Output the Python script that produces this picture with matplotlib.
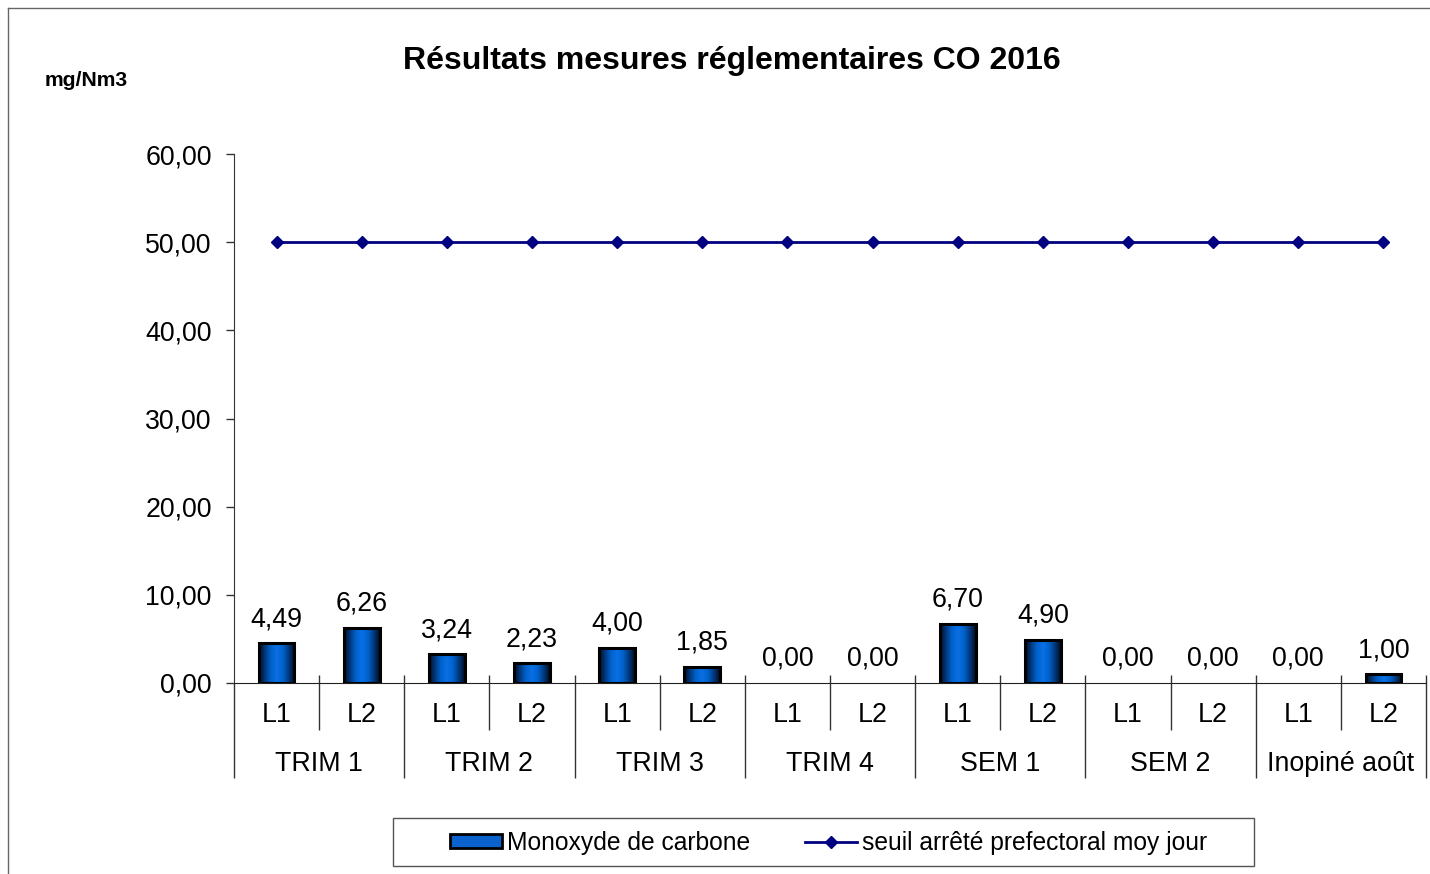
import matplotlib
matplotlib.use("Agg")

import numpy as np
import matplotlib.pyplot as plt
from matplotlib.colors import LinearSegmentedColormap
from matplotlib.lines import Line2D
from matplotlib.patches import Patch, Rectangle
from matplotlib.ticker import FuncFormatter

plt.rcParams["font.family"] = ["Liberation Sans", "DejaVu Sans"]

groups = ["TRIM 1", "TRIM 2", "TRIM 3", "TRIM 4", "SEM 1", "SEM 2", "Inopiné août"]
lines = ["L1", "L2"]
co = [4.49, 6.26, 3.24, 2.23, 4.00, 1.85, 0.00, 0.00, 6.70, 4.90, 0.00, 0.00, 0.00, 1.00]
seuil = [50] * 14

W, H = 1430, 874
FS = 19.3
LFS = 17.7


def main():
    fig = plt.figure(figsize=(W / 100, H / 100), dpi=100)
    ax = fig.add_axes([234 / W, 1 - 683 / H, 1192 / W, 529 / H])

    x = np.arange(len(co))
    bw = 0.42
    grad = LinearSegmentedColormap.from_list(
        "g", ["#000c20", "#003a80", "#0062cc", "#0a70e4", "#0062cc", "#003a80", "#000c20"])
    img = np.linspace(0, 1, 64).reshape(1, -1)
    pos = [(xi, v) for xi, v in zip(x, co) if v > 0]
    for xi, v in pos:
        ax.imshow(img, cmap=grad, aspect="auto", extent=(xi - bw / 2, xi + bw / 2, 0, v),
                  zorder=2, interpolation="bilinear")
    ax.bar([p[0] for p in pos], [p[1] for p in pos], bw, fill=False, edgecolor="black",
           linewidth=2.2, zorder=3)

    for xi, v in zip(x, co):
        ax.annotate(("%.2f" % v).replace(".", ","), (xi, v), xytext=(0, 8),
                    textcoords="offset points", ha="center", va="bottom", fontsize=FS)

    ax.plot(x, seuil, color="#000080", lw=2, marker="D", ms=6.5, zorder=4)

    ax.set_xlim(-0.5, 13.5)
    ax.set_ylim(0, 60)
    ax.set_yticks(np.arange(0, 61, 10))
    ax.yaxis.set_major_formatter(FuncFormatter(lambda v, p: ("%.2f" % v).replace(".", ",")))
    ax.tick_params(axis="y", labelsize=FS, length=6, width=1, pad=10, colors="#333333",
                   labelcolor="black")
    ax.set_xticks([])
    for s in ["top", "right"]:
        ax.spines[s].set_visible(False)
    ax.spines["left"].set_color("#333333")
    ax.spines["bottom"].set_color("#222222")

    tr = ax.get_xaxis_transform()
    for i, lab in enumerate(lines * len(groups)):
        ax.text(i, -32 / 529, lab, transform=tr, ha="center", va="center", fontsize=FS)
    for g, name in enumerate(groups):
        ax.text(2 * g + 0.5, -81 / 529, name, transform=tr, ha="center", va="center", fontsize=FS)
    ax.vlines(np.arange(len(groups)) * 2 + 0.5, 8 / 529, -47 / 529, transform=tr,
              color="#333333", lw=1, clip_on=False)
    ax.vlines(np.arange(1, len(groups) + 1) * 2 - 0.5, 8 / 529, -95 / 529, transform=tr,
              color="#333333", lw=1, clip_on=False)
    ax.vlines([-0.5], 0, -95 / 529, transform=tr, color="#333333", lw=1, clip_on=False)

    fig.text(732 / W, 1 - 61 / H, "Résultats mesures réglementaires CO 2016",
             ha="center", va="center", fontsize=23, fontweight="bold")
    fig.text(45 / W, 1 - 80 / H, "mg/Nm3", ha="left", va="center", fontsize=15.2,
             fontweight="bold")

    # legend box
    fig.add_artist(Rectangle((393 / W, 1 - 866 / H), 861 / W, 48 / H, transform=fig.transFigure,
                             fill=False, edgecolor="#555555", lw=1))
    handles = [Patch(facecolor="#0a62cc", edgecolor="black", linewidth=2),
               Line2D([], [], color="#000080", lw=2, marker="D", ms=6.5)]
    fig.legend(handles, ["Monoxyde de carbone", "seuil arrêté prefectoral moy jour"],
               loc="center left", bbox_to_anchor=(450 / W, 1 - 843 / H), ncol=2,
               fontsize=LFS, frameon=False, handlelength=2.1, handleheight=0.5,
               handletextpad=0.2, columnspacing=2.25, borderpad=0, borderaxespad=0)

    fig.add_artist(Line2D([8 / W, 8 / W], [0, 1 - 8 / H], color="#666666", lw=1))
    fig.add_artist(Line2D([8 / W, 1], [1 - 8 / H, 1 - 8 / H], color="#666666", lw=1))

    fig.savefig("out.png", dpi=100)


if __name__ == "__main__": main()
